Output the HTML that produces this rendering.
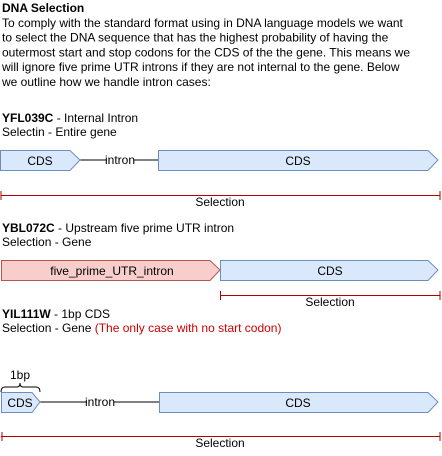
<!DOCTYPE html>
<html><head><style>
body{margin:0;background:#fff;width:442px;height:451px;overflow:hidden;font-family:"Liberation Sans",Arial,sans-serif;}
svg text{font-family:"Liberation Sans",Arial,sans-serif;font-size:12px;fill:#000}
</style></head><body>
<svg width="442" height="451" viewBox="0 0 442 451" xmlns="http://www.w3.org/2000/svg">
<text x="2" y="12" font-weight="bold">DNA Selection</text>
<text x="2" y="27">To comply with the standard format using in DNA language models we want</text>
<text x="2" y="41.7">to select the DNA sequence that has the highest probability of having the</text>
<text x="2" y="56.4">outermost start and stop codons for the CDS of the the gene. This means we</text>
<text x="2" y="71.1">will ignore five prime UTR introns if they are not internal to the gene. Below</text>
<text x="2" y="85.8">we outline how we handle intron cases:</text>

<text x="2" y="122"><tspan font-weight="bold">YFL039C</tspan> - Internal Intron</text>
<text x="2" y="136">Selectin - Entire gene</text>
<line x1="80" y1="160" x2="158" y2="160" stroke="#000"/>
<rect x="106" y="154" width="28" height="12" fill="#fff"/>
<text x="120" y="164" text-anchor="middle">intron</text>
<polygon points="0.5,150.5 70,150.5 80,160 70,170.5 0.5,170.5" fill="#dae8fc" stroke="#6c8ebf"/>
<text x="40" y="165" text-anchor="middle">CDS</text>
<polygon points="158.5,150.5 428,150.5 438,160 428,170.5 158.5,170.5" fill="#dae8fc" stroke="#6c8ebf"/>
<text x="298" y="165" text-anchor="middle">CDS</text>
<line x1="1" y1="195.5" x2="440" y2="195.5" stroke="#b20000"/>
<line x1="1" y1="191" x2="1" y2="200" stroke="#b20000"/>
<line x1="440" y1="191" x2="440" y2="200" stroke="#b20000"/>
<text x="220" y="206" text-anchor="middle">Selection</text>

<text x="2" y="232"><tspan font-weight="bold">YBL072C</tspan> - Upstream five prime UTR intron</text>
<text x="2" y="246">Selection - Gene</text>
<polygon points="1.5,260.5 210,260.5 220,270 210,280.5 1.5,280.5" fill="#f8cecc" stroke="#b85450"/>
<text x="112" y="275" text-anchor="middle">five_prime_UTR_intron</text>
<polygon points="220.5,260.5 428,260.5 438,270 428,280.5 220.5,280.5" fill="#dae8fc" stroke="#6c8ebf"/>
<text x="330" y="275" text-anchor="middle">CDS</text>
<line x1="220" y1="295.5" x2="440" y2="295.5" stroke="#b20000"/>
<line x1="220.5" y1="291" x2="220.5" y2="300" stroke="#b20000"/>
<line x1="440" y1="291" x2="440" y2="300" stroke="#b20000"/>
<text x="330" y="306" text-anchor="middle">Selection</text>

<text x="2" y="318"><tspan font-weight="bold">YIL111W</tspan> - 1bp CDS</text>
<text x="2" y="332">Selection - Gene <tspan fill="#cc0000">(The only case with no start codon)</tspan></text>
<text x="20" y="379" text-anchor="middle">1bp</text>
<path d="M1,392 Q1,387 5,387 L17,387 Q20,387 20,383 Q20,387 23,387 L36,387 Q40,387 40,392" fill="none" stroke="#000"/>
<line x1="40" y1="402" x2="159" y2="402" stroke="#000"/>
<rect x="86" y="396" width="28" height="12" fill="#fff"/>
<text x="100" y="406" text-anchor="middle">intron</text>
<polygon points="1.5,392.5 32,392.5 40,402 32,412.5 1.5,412.5" fill="#dae8fc" stroke="#6c8ebf"/>
<text x="20" y="407" text-anchor="middle">CDS</text>
<polygon points="159.5,392.5 428,392.5 438,402 428,412.5 159.5,412.5" fill="#dae8fc" stroke="#6c8ebf"/>
<text x="298" y="407" text-anchor="middle">CDS</text>
<line x1="1" y1="436.5" x2="440" y2="436.5" stroke="#b20000"/>
<line x1="2" y1="432" x2="2" y2="441" stroke="#b20000"/>
<line x1="440" y1="432" x2="440" y2="441" stroke="#b20000"/>
<text x="220" y="447" text-anchor="middle">Selection</text>
</svg>
</body></html>
